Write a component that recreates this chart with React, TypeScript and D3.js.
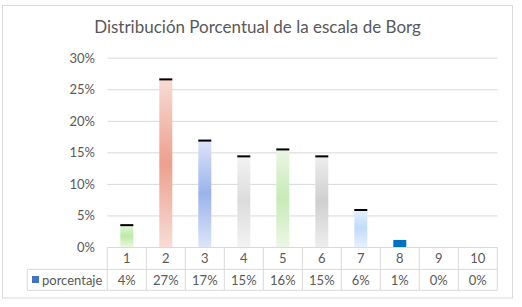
import React from "react";
import * as d3 from "d3";

const categories = ["1", "2", "3", "4", "5", "6", "7", "8", "9", "10"];
const values = [0.037, 0.268, 0.171, 0.146, 0.157, 0.146, 0.061, 0.012, 0, 0];
const valueLabels = ["4%", "27%", "17%", "15%", "16%", "15%", "6%", "1%", "0%", "0%"];
const yTicks = [0, 0.05, 0.1, 0.15, 0.2, 0.25, 0.3];
const barCenters = ["#bdeaa6", "#eda08d", "#9bb3ec", "#dcdcdc", "#c8eab8", "#cfcfcf", "#c0dcfb", "#0070C0", "#0070C0", "#0070C0"];
const barEnds = ["#eaf8e0", "#f8dcd5", "#dde5f8", "#f3f3f3", "#ebf7e5", "#eeeeee", "#e6f1fe", "#0070C0", "#0070C0", "#0070C0"];
const capped = [true, true, true, true, true, true, true, false, false, false];
const title = "Distribución Porcentual de la escala de Borg";
const seriesName = "porcentaje";

const W = 522, H = 307;
const font = "Lato, 'Open Sans', sans-serif";

export default function App() {
  const plotLeft = 107.3, plotRight = 497.3;
  const y0 = 247.5, yTop = 58.2;
  const x = d3.scaleBand().domain(categories).range([plotLeft, plotRight]).paddingInner(0).paddingOuter(0);
  const y = d3.scaleLinear().domain([0, 0.3]).range([y0, yTop]);
  const bw = x.bandwidth() / 3;
  const row1 = 269.3, row2 = 290.3, tableLeft = 27.3;
  const grid = "#d9d9d9";
  const txt = "#595959";

  return (
    <svg width={W} height={H} style={{ position: "absolute", left: 0, top: 0, background: "#fff" }}>
      <defs>
        {categories.map((c, i) => (
          <linearGradient key={c} id={`g${i}`} x1="0" y1="0" x2="0" y2="1">
            <stop offset="0%" stopColor={barEnds[i]} />
            <stop offset="50%" stopColor={barCenters[i]} />
            <stop offset="100%" stopColor={barEnds[i]} />
          </linearGradient>
        ))}
      </defs>
      <rect x={2.5} y={5.5} width={510} height={292.5} fill="#fff" stroke={grid} />
      <text x={257.5} y={33} textAnchor="middle" fontFamily={font} fontSize={17} fill={txt}>{title}</text>
      {yTicks.map((t) => (
        <g key={t}>
          {t > 0 && <line x1={plotLeft} x2={plotRight} y1={y(t)} y2={y(t)} stroke={grid} strokeWidth={1} />}
          <text x={95} y={y(t) + 4.5} textAnchor="end" fontFamily={font} fontSize={13} fill={txt}>{`${Math.round(t * 100)}%`}</text>
        </g>
      ))}
      {categories.map((c, i) => {
        const v = values[i];
        if (v <= 0) return null;
        const bx = (x(c) as number) + x.bandwidth() / 2 - bw / 2;
        const top = y(v);
        return (
          <g key={c}>
            <rect x={bx} y={top} width={bw} height={y0 - top} fill={`url(#g${i})`} />
            {capped[i] && <rect x={bx} y={top} width={bw} height={2} fill="#000" />}
          </g>
        );
      })}
      <line x1={plotLeft} x2={plotRight} y1={y0} y2={y0} stroke={grid} />
      <line x1={tableLeft} x2={plotRight} y1={row1} y2={row1} stroke={grid} />
      <line x1={tableLeft} x2={plotRight} y1={row2} y2={row2} stroke={grid} />
      <line x1={tableLeft} x2={tableLeft} y1={row1} y2={row2} stroke={grid} />
      {categories.map((c) => (
        <line key={c} x1={x(c) as number} x2={x(c) as number} y1={y0} y2={row2} stroke={grid} />
      ))}
      <line x1={plotRight} x2={plotRight} y1={y0} y2={row2} stroke={grid} />
      {categories.map((c, i) => (
        <g key={c}>
          <text x={(x(c) as number) + x.bandwidth() / 2} y={262.5} textAnchor="middle" fontFamily={font} fontSize={13} fill={txt}>{c}</text>
          <text x={(x(c) as number) + x.bandwidth() / 2} y={284.5} textAnchor="middle" fontFamily={font} fontSize={13} fill={txt}>{valueLabels[i]}</text>
        </g>
      ))}
      <rect x={32} y={276} width={7} height={7} fill="#4472C4" />
      <text x={42} y={284.5} fontFamily={font} fontSize={13} fill={txt}>{seriesName}</text>
    </svg>
  );
}
